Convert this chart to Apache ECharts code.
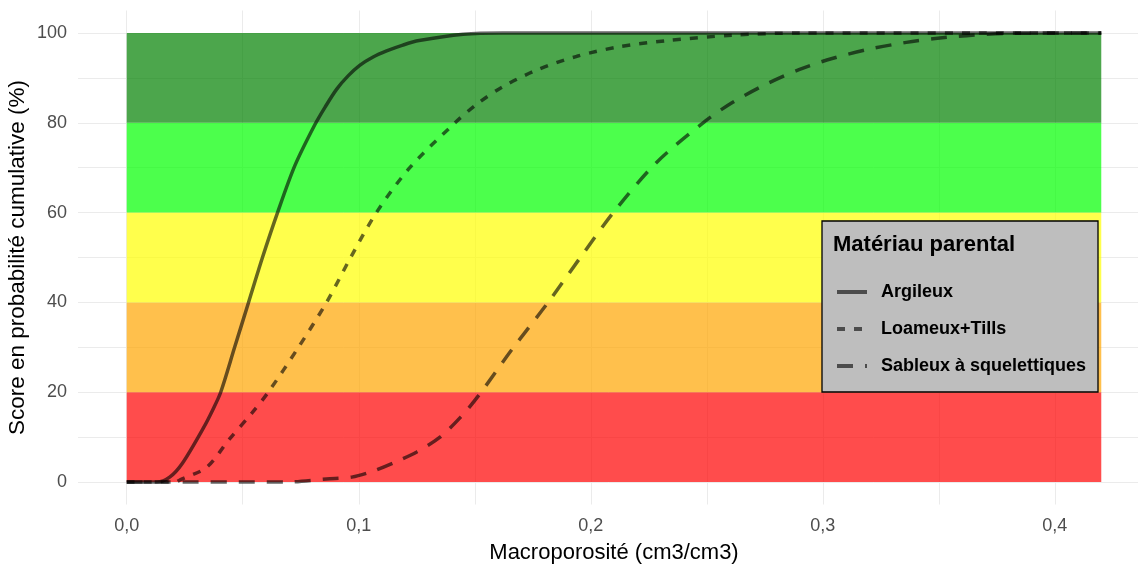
<!DOCTYPE html>
<html>
<head>
<meta charset="utf-8">
<script src="https://cdn.jsdelivr.net/npm/echarts@6/dist/echarts.min.js"></script>
<style>
  html, body { margin: 0; padding: 0; background: #fff; }
  #chart { width: 1138px; height: 564px; }
</style>
</head>
<body>
<div id="chart"></div>
<script>
// Cumulative probability curves of macroporosity by parent material
const argileuxX = [0, 0.013, 0.0185, 0.024, 0.033, 0.037, 0.0405, 0.0465, 0.0525, 0.0585, 0.065, 0.0725, 0.081, 0.0855, 0.0905, 0.0955, 0.1004, 0.106, 0.112, 0.119, 0.126, 0.145, 0.162, 0.42];
const argileuxY = [0, 0, 1.1, 4.2, 12, 16, 20, 30, 40, 50, 60, 70.5, 79.5, 83.5, 87.5, 90.5, 92.8, 94.6, 96, 97.3, 98.3, 99.7, 100, 100];

const loameuxX = [0, 0.021, 0.023, 0.0345, 0.044, 0.054, 0.061, 0.074, 0.0861, 0.0965, 0.1076, 0.122, 0.1415, 0.151, 0.162, 0.177, 0.194, 0.212, 0.233, 0.261, 0.29, 0.42];
const loameuxY = [0, 0, 0.5, 3.3, 9.4, 15.4, 20, 30, 40, 50, 60, 70, 80, 84.2, 88, 91.8, 94.8, 96.9, 98.3, 99.5, 100, 100];

const sableuxX = [0, 0.069, 0.086, 0.097, 0.106, 0.116, 0.125, 0.135, 0.144, 0.152, 0.166, 0.1816, 0.1955, 0.2097, 0.228, 0.2484, 0.261, 0.276, 0.29, 0.304, 0.319, 0.336, 0.3475, 0.362, 0.38, 0.42];
const sableuxY = [0, 0, 0.7, 1.1, 2.4, 4.5, 6.7, 10, 14.5, 19.5, 29.5, 40, 50, 60, 71, 80, 84.5, 88.7, 91.9, 94.3, 96.3, 97.9, 98.7, 99.4, 99.9, 100];

const seriesNames = ['Argileux', 'Loameux+Tills', 'Sableux à squelettiques'];

// Score classes (background bands)
const bandLow = [0, 20, 40, 60, 80];
const bandHigh = [20, 40, 60, 80, 100];
const bandColors = ['rgba(255,0,0,0.7)', 'rgba(255,165,0,0.7)', 'rgba(255,255,0,0.7)', 'rgba(0,255,0,0.7)', 'rgba(0,128,0,0.7)'];
const bandXMax = 0.42;

const xTickLabels = [0, 0.1, 0.2, 0.3, 0.4];
const yTickLabels = [0, 20, 40, 60, 80, 100];

const pairs = (xs, ys) => xs.map((x, i) => [x, ys[i]]);

const FONT = '"Liberation Sans", Arial, sans-serif';
const lineBase = { color: '#000', width: 3.5, opacity: 0.6, cap: 'butt' };

const chart = echarts.init(document.getElementById('chart'), null, { renderer: 'canvas' });

chart.setOption({
  animation: false,
  textStyle: { fontFamily: FONT },
  grid: { left: 78, right: -12, top: 10.5, bottom: 59.5, containLabel: false, outerBoundsMode: 'none' },
  xAxis: {
    type: 'value',
    min: -0.021,
    max: 0.441,
    minInterval: 0.05,
    maxInterval: 0.05,
    axisLine: { show: false },
    axisTick: { show: false },
    splitLine: { show: true, showMinLine: false, showMaxLine: false, lineStyle: { color: '#EBEBEB', width: 1 } },
    axisLabel: {
      showMinLabel: false, showMaxLabel: false,
      margin: 13, color: '#4D4D4D', fontSize: 18, fontFamily: FONT,
      formatter: v => {
        const hit = xTickLabels.find(t => Math.abs(t - v) < 1e-6);
        return hit === undefined ? '' : hit.toFixed(1).replace('.', ',');
      }
    },
    name: 'Macroporosité (cm3/cm3)',
    nameLocation: 'middle',
    nameGap: 37,
    nameTextStyle: { color: '#000', fontSize: 22, fontFamily: FONT }
  },
  yAxis: {
    type: 'value',
    min: -5,
    max: 105,
    minInterval: 10,
    maxInterval: 10,
    axisLine: { show: false },
    axisTick: { show: false },
    splitLine: { show: true, showMinLine: false, showMaxLine: false, lineStyle: { color: '#EBEBEB', width: 1 } },
    axisLabel: {
      showMinLabel: false, showMaxLabel: false,
      margin: 11, color: '#4D4D4D', fontSize: 18, fontFamily: FONT,
      formatter: v => {
        const hit = yTickLabels.find(t => Math.abs(t - v) < 1e-6);
        return hit === undefined ? '' : String(hit);
      }
    },
    name: 'Score en probabilité cumulative (%)',
    nameLocation: 'middle',
    nameGap: 49,
    nameMoveOverlap: false,
    nameTextStyle: { color: '#000', fontSize: 22.5, fontFamily: FONT }
  },
  legend: {
    data: seriesNames,
    orient: 'vertical',
    left: 835,
    top: 283,
    padding: 0,
    itemWidth: 30,
    itemHeight: 16,
    itemGap: 19,
    z: 6,
    itemStyle: { opacity: 0, borderWidth: 0 },
    lineStyle: { width: 4 },
    textStyle: { color: '#000', fontSize: 18, fontWeight: 'bold', fontFamily: FONT, padding: [0, 0, 0, 9] }
  },
  graphic: [
    {
      type: 'rect', z: 3,
      shape: { x: 822, y: 221, width: 276, height: 171 },
      style: { fill: '#BEBEBE', stroke: '#000', lineWidth: 1.3 }
    },
    {
      type: 'text', z: 5, left: 833, top: 234,
      style: { text: 'Matériau parental', fill: '#000', font: 'bold 22px "Liberation Sans", Arial, sans-serif' }
    }
  ],
  series: [
    {
      name: 'bands', type: 'line', data: [], silent: true, z: 1,
      markArea: {
        silent: true,
        data: bandLow.map((lo, i) => [
          { xAxis: 0, yAxis: lo, itemStyle: { color: bandColors[i], borderWidth: 0 } },
          { xAxis: bandXMax, yAxis: bandHigh[i] }
        ])
      }
    },
    {
      name: seriesNames[0], type: 'line', z: 3, showSymbol: false, symbol: 'none',
      smooth: 0.3,
      data: pairs(argileuxX, argileuxY),
      itemStyle: { color: '#000', opacity: 0.6 },
      lineStyle: Object.assign({}, lineBase, { type: 'solid' })
    },
    {
      name: seriesNames[1], type: 'line', z: 3, showSymbol: false, symbol: 'none',
      smooth: 0.3,
      data: pairs(loameuxX, loameuxY),
      itemStyle: { color: '#000', opacity: 0.6 },
      lineStyle: Object.assign({}, lineBase, { type: [8, 9] })
    },
    {
      name: seriesNames[2], type: 'line', z: 3, showSymbol: false, symbol: 'none',
      smooth: 0.3,
      data: pairs(sableuxX, sableuxY),
      itemStyle: { color: '#000', opacity: 0.6 },
      lineStyle: Object.assign({}, lineBase, { type: [16, 12] })
    }
  ]
});
</script>
</body>
</html>
